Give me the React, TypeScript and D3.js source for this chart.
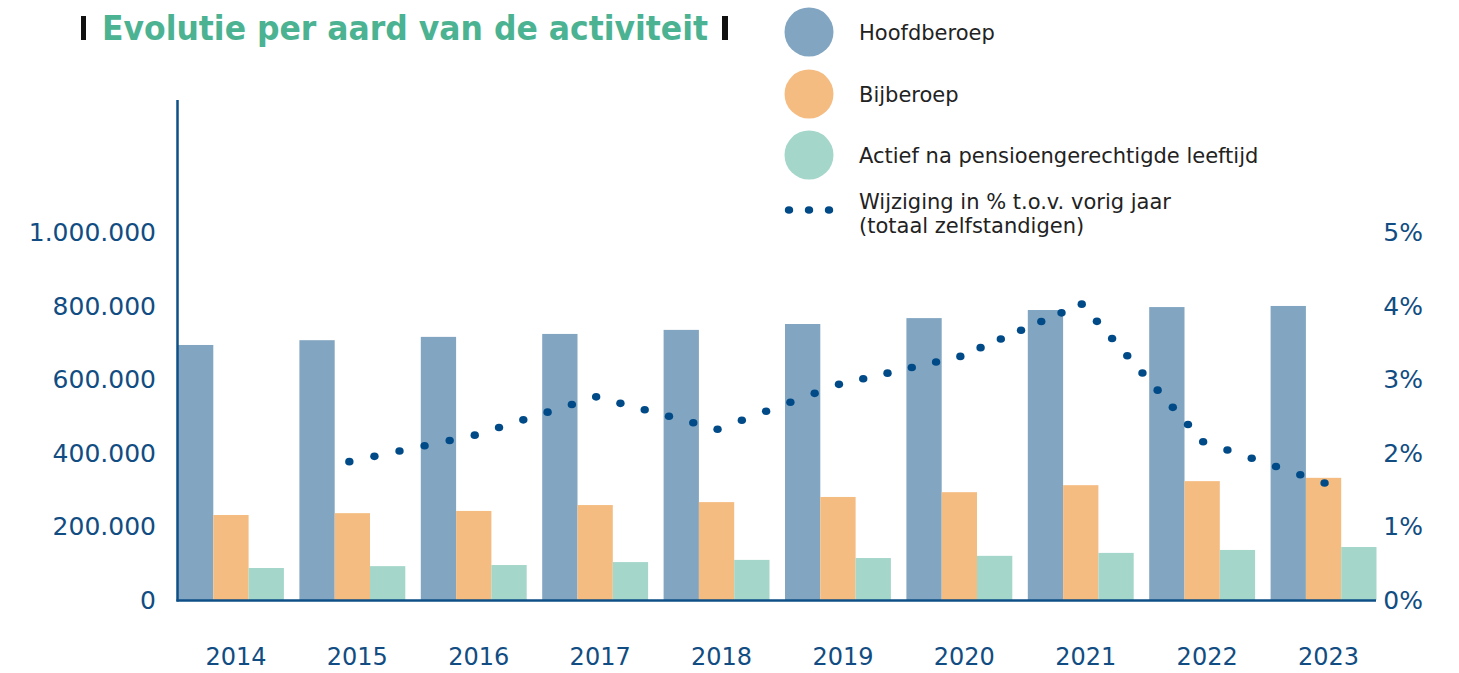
import React from "react";
import * as d3 from "d3";

const years = ["2014", "2015", "2016", "2017", "2018", "2019", "2020", "2021", "2022", "2023"];
const hoofdberoep = [693000, 706000, 715000, 723000, 734000, 750000, 766000, 788000, 796000, 799000];
const bijberoep = [231000, 236000, 242000, 258000, 266000, 280000, 293000, 312000, 323000, 332000];
const actief = [87000, 92000, 95000, 103000, 109000, 114000, 120000, 128000, 136000, 144000];
const changeYears = ["2015", "2016", "2017", "2018", "2019", "2020", "2021", "2022", "2023"];
const changePct = [1.88, 2.24, 2.76, 2.32, 2.93, 3.31, 4.02, 2.15, 1.59];
const leftTicks = [0, 200000, 400000, 600000, 800000, 1000000];
const rightTicks = [0, 1, 2, 3, 4, 5];
const seriesNames = ["Hoofdberoep", "Bijberoep", "Actief na pensioengerechtigde leeftijd"];
const lineLabel = ["Wijziging in % t.o.v. vorig jaar", "(totaal zelfstandigen)"];
const title = "Evolutie per aard van de activiteit";

const colors = ["#82a6c2", "#f5bc82", "#a4d6ca"];
const axisColor = "#0d4f86";
const dotColor = "#004a87";
const textColor = "#114d82";
const font = "'DejaVu Sans', sans-serif";

const fmt = d3.formatLocale({ decimal: ",", thousands: ".", grouping: [3], currency: ["€", ""] }).format(",");

export default function App() {
  const W = 1459, H = 673;
  const x0 = 178, base = 600;
  const x = d3.scaleBand<string>().domain(years).range([x0, 1376.5]).paddingInner(0.1277).paddingOuter(0).align(0);
  const bw = x.bandwidth();
  const sub = d3.scaleBand<number>().domain([0, 1, 2]).range([0, bw]);
  const yL = d3.scaleLinear().domain([0, 1000000]).range([base, 232]);
  const yR = d3.scaleLinear().domain([0, 5]).range([base, 232]);
  const series = [hoofdberoep, bijberoep, actief];

  const pts = changeYears.map((yr, i) => [(x(yr) as number) + bw / 2 + 1, yR(changePct[i])] as [number, number]);
  pts[0][0] -= 4;
  const dots: [number, number][] = [];
  for (let i = 0; i < pts.length - 1; i++) {
    const [ax, ay] = pts[i];
    const [bx, by] = pts[i + 1];
    const len = Math.hypot(bx - ax, by - ay);
    const n = Math.max(1, Math.round(len / 24));
    for (let k = 0; k < n; k++) dots.push([ax + ((bx - ax) * k) / n, ay + ((by - ay) * k) / n]);
  }
  dots.push(pts[pts.length - 1]);

  const legendY = [32, 94, 155];

  return (
    <div style={{ position: "absolute", left: 0, top: 0 }}>
      <svg width={W} height={H} style={{ display: "block", fontFamily: font }}>
        <rect width={W} height={H} fill="#fff" />
        {/* title */}
        <rect x={81} y={16} width={5} height={24} fill="#111" />
        <text x={102} y={40} fill="#4bb292" fontWeight="bold" fontSize={33} textLength={606} lengthAdjust="spacingAndGlyphs">
          {title}
        </text>
        <rect x={722} y={16} width={6} height={24} fill="#111" />

        {/* bars */}
        {series.map((vals, s) =>
          vals.map((v, i) => (
            <rect
              key={`${s}-${i}`}
              x={(x(years[i]) as number) + (sub(s) as number)}
              y={yL(v)}
              width={sub.bandwidth()}
              height={base - yL(v)}
              fill={colors[s]}
            />
          ))
        )}

        {/* axes */}
        <line x1={x0 - 0.5} x2={x0 - 0.5} y1={100} y2={base + 1.5} stroke={axisColor} strokeWidth={2.5} />
        <line x1={x0 - 1.5} x2={1376} y1={base + 0.5} y2={base + 0.5} stroke={axisColor} strokeWidth={2.5} />

        {leftTicks.map((t) => (
          <text key={t} x={156} y={yL(t)} dy="0.36em" textAnchor="end" fontSize={25} fill={textColor}>
            {fmt(t)}
          </text>
        ))}
        {rightTicks.map((t) => (
          <text key={t} x={1423} y={yR(t)} dy="0.36em" textAnchor="end" fontSize={25} fill={textColor}>
            {`${t}%`}
          </text>
        ))}
        {years.map((yr) => (
          <text key={yr} x={(x(yr) as number) + bw / 2 + 5} y={665} textAnchor="middle" fontSize={24} fill={textColor}>
            {yr}
          </text>
        ))}

        {/* dotted line */}
        {dots.map(([cx, cy], i) => (
          <ellipse key={i} cx={cx} cy={cy} rx={4.2} ry={3.8} fill={dotColor} />
        ))}

        {/* legend */}
        {seriesNames.map((name, i) => (
          <g key={name}>
            <circle cx={809} cy={legendY[i]} r={24.5} fill={colors[i]} />
            <text x={859} y={legendY[i]} dy="0.36em" fontSize={21} fill="#222">
              {name}
            </text>
          </g>
        ))}
        {[789, 809, 829].map((cx) => (
          <ellipse key={cx} cx={cx} cy={210} rx={4.2} ry={3.8} fill={dotColor} />
        ))}
        <text x={859} y={209} fontSize={21} fill="#222">
          {lineLabel[0]}
        </text>
        <text x={859} y={233} fontSize={21} fill="#222">
          {lineLabel[1]}
        </text>
      </svg>
    </div>
  );
}
